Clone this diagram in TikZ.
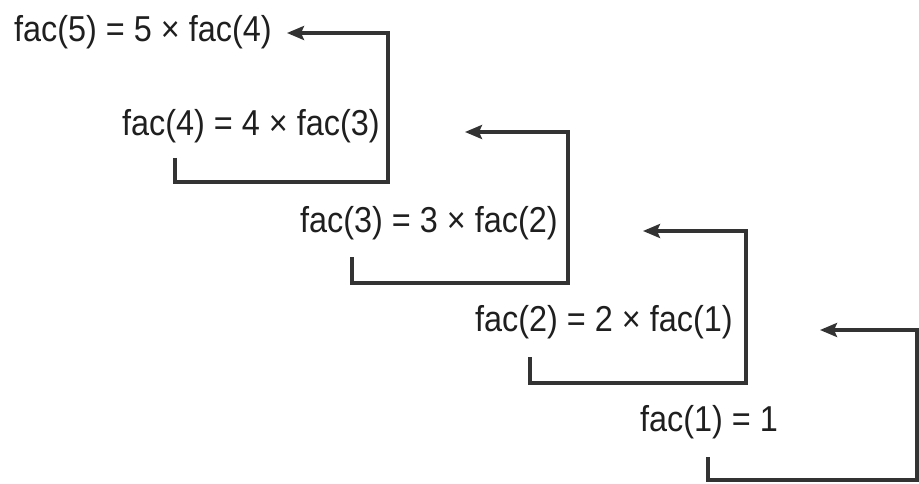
\documentclass[tikz,border=0pt]{standalone}
\usepackage{fontspec}
\setmainfont{Liberation Sans}[FakeStretch=0.9]
\usetikzlibrary{arrows.meta}
\begin{document}
\begin{tikzpicture}[x=1pt,y=-1pt,
  lbl/.style={anchor=west,inner sep=0pt,font=\fontsize{36}{40}\selectfont,text=black!88},
  conn/.style={draw=black!80,line width=3.2pt,line join=miter,
    -{Stealth[length=17pt,width=14pt,inset=3pt]}}]
\useasboundingbox[fill=white] (0,0) rectangle (919,484);
\node[lbl] (f5) at (14,32)  {fac(5) = 5 × fac(4)};
\node[lbl] (f4) at (122,126) {fac(4) = 4 × fac(3)};
\node[lbl] (f3) at (300,223) {fac(3) = 3 × fac(2)};
\node[lbl] (f2) at (475,322) {fac(2) = 2 × fac(1)};
\node[lbl] (f1) at (640,422) {fac(1) = 1};
% connector corners and ends
\coordinate (s4) at (175,158); \coordinate (c4) at (388,182); \coordinate (t5) at (287,33);
\coordinate (s3) at (352,257); \coordinate (c3) at (568,283); \coordinate (t4) at (465,132);
\coordinate (s2) at (530,357); \coordinate (c2) at (746,383); \coordinate (t3) at (643,231);
\coordinate (s1) at (708,457); \coordinate (c1) at (917,480); \coordinate (t2) at (820,330);
\draw[conn] (s4) |- (c4) |- (t5);
\draw[conn] (s3) |- (c3) |- (t4);
\draw[conn] (s2) |- (c2) |- (t3);
\draw[conn] (s1) |- (c1) |- (t2);
\end{tikzpicture}
\end{document}
